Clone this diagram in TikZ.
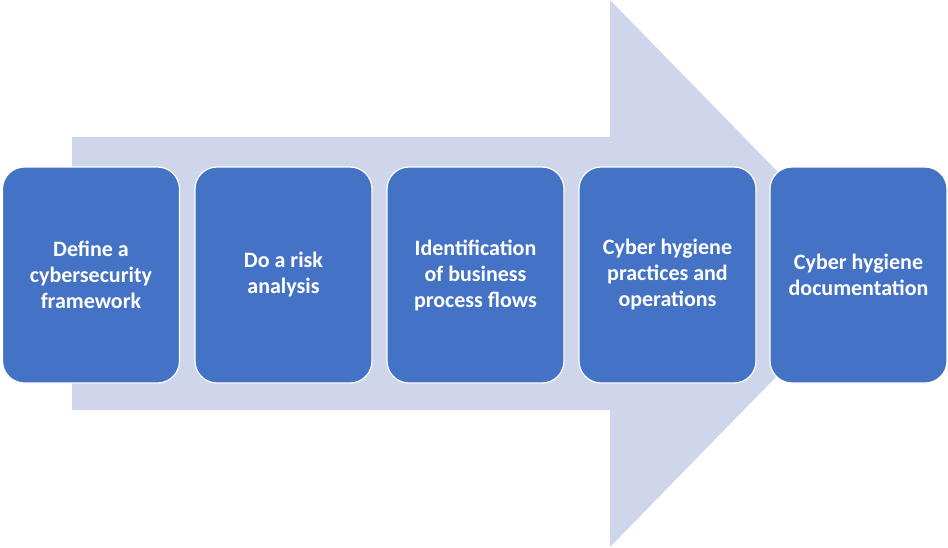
\documentclass[tikz,border=0pt]{standalone}
\usepackage{fontspec}
\setmainfont{Carlito}
\definecolor{arrowfill}{HTML}{CFD5EA}
\definecolor{boxblue}{HTML}{4472C4}
\begin{document}
\begin{tikzpicture}[x=1pt,y=-1pt,
  stepbox/.style={draw=white, line width=1.2pt, fill=boxblue, rounded corners=22pt,
    minimum width=177pt, minimum height=216pt, inner sep=0pt,
    text=white, align=center,
    font=\fontsize{22}{26}\selectfont\bfseries}]
\useasboundingbox (0,0) rectangle (948,547);
\fill[arrowfill] (72,137) -- (610,137) -- (610,0) -- (877,273.5) -- (610,547) -- (610,410) -- (72,410) -- cycle;
\node[stepbox] (s1) at (91,275) {Define a\\cybersecurity\\framework};
\node[stepbox] (s2) at (283.5,275) {Do a risk\\analysis};
\node[stepbox] (s3) at (475.5,275) {Identification\\of business\\process flows};
\node[stepbox] (s4) at (667.5,275) {Cyber hygiene\\practices and\\operations};
\node[stepbox] (s5) at (858.5,275) {Cyber hygiene\\documentation};
\end{tikzpicture}
\end{document}
